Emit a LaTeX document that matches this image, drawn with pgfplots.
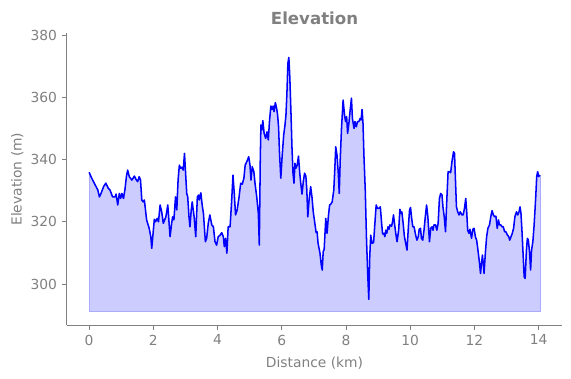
\documentclass[border=0pt]{standalone}
\usepackage{pgfplots}
\pgfplotsset{compat=1.18}
\usepackage{pgfplotstable}
\usepgfplotslibrary{fillbetween}
\usetikzlibrary{calc}
\usepackage{fontspec}
\setmainfont{DejaVu Sans}
\definecolor{txtgray}{RGB}{128,128,128}
\definecolor{fillblue}{RGB}{204,204,255}
\definecolor{edgeblue}{RGB}{170,170,255}

\pgfplotstableread{
x y
0.00 335.9
0.08 334.0
0.19 331.8
0.27 330.2
0.32 328.0
0.37 329.1
0.45 331.3
0.52 332.4
0.60 330.7
0.65 330.2
0.73 328.0
0.81 328.0
0.84 328.9
0.89 325.4
0.94 329.1
0.98 327.5
1.02 329.1
1.07 327.5
1.12 330.7
1.16 334.5
1.20 336.6
1.25 334.5
1.33 333.4
1.41 334.7
1.46 333.6
1.51 332.9
1.56 334.5
1.60 333.4
1.64 327.0
1.68 326.4
1.72 327.0
1.79 320.6
1.87 317.9
1.92 315.2
1.95 311.5
2.00 317.3
2.03 320.8
2.07 320.0
2.12 321.1
2.16 320.0
2.21 325.4
2.26 323.2
2.31 319.5
2.39 321.6
2.45 325.4
2.52 315.2
2.57 319.5
2.60 321.6
2.64 320.6
2.69 328.0
2.73 323.8
2.77 333.4
2.81 338.2
2.85 337.2
2.89 337.5
2.93 336.6
2.97 342.0
3.01 334.5
3.04 329.1
3.07 328.0
3.11 321.6
3.14 318.4
3.18 323.8
3.21 326.4
3.27 321.6
3.32 315.2
3.37 328.0
3.41 328.6
3.43 327.0
3.48 329.3
3.52 325.4
3.56 322.7
3.62 313.6
3.66 314.7
3.71 319.5
3.76 322.2
3.82 319.0
3.87 318.4
3.92 313.6
3.97 312.5
4.02 315.2
4.08 315.7
4.13 316.5
4.18 315.2
4.21 312.0
4.25 314.7
4.29 309.9
4.33 318.4
4.39 318.4
4.44 327.0
4.48 335.0
4.52 329.1
4.56 322.2
4.61 323.8
4.67 328.0
4.72 332.4
4.77 332.1
4.82 334.0
4.86 338.2
4.93 339.8
4.97 340.9
5.01 338.2
5.04 333.4
5.08 337.7
5.13 336.1
5.17 332.0
5.22 328.0
5.27 322.7
5.30 312.5
5.33 339.8
5.35 351.1
5.38 349.5
5.41 352.5
5.45 348.4
5.50 346.8
5.54 348.9
5.58 346.3
5.62 352.7
5.66 357.2
5.70 356.1
5.73 357.2
5.76 355.4
5.80 358.3
5.84 356.4
5.87 354.3
5.90 350.5
5.93 342.0
5.97 334.0
6.01 340.9
6.06 347.9
6.10 351.1
6.13 354.3
6.16 361.3
6.19 370.9
6.22 372.8
6.25 366.6
6.29 353.8
6.32 343.1
6.35 335.6
6.38 332.4
6.41 338.8
6.44 337.2
6.48 338.2
6.52 341.1
6.56 335.6
6.59 332.4
6.63 328.9
6.67 332.9
6.71 335.6
6.75 334.7
6.78 330.2
6.81 321.6
6.85 327.0
6.90 331.3
6.94 328.0
6.98 323.2
7.03 319.5
7.07 316.5
7.10 316.8
7.13 313.1
7.19 309.9
7.23 306.1
7.26 304.5
7.29 310.4
7.32 311.1
7.37 321.1
7.41 316.3
7.45 321.6
7.49 325.4
7.53 325.7
7.57 326.4
7.62 330.2
7.65 336.6
7.68 344.1
7.72 341.4
7.76 335.6
7.79 329.1
7.82 339.8
7.86 350.0
7.91 359.1
7.96 353.8
7.99 352.2
8.02 353.8
8.05 348.4
8.09 351.6
8.13 355.9
8.17 359.7
8.20 353.2
8.25 350.0
8.28 352.2
8.32 350.5
8.36 352.2
8.40 352.2
8.44 353.2
8.47 352.7
8.50 356.1
8.53 351.6
8.56 340.9
8.60 330.2
8.64 314.1
8.68 302.3
8.71 295.1
8.74 308.8
8.77 315.7
8.81 313.1
8.86 313.3
8.90 319.5
8.94 325.4
8.98 324.3
9.02 324.3
9.07 324.8
9.11 319.5
9.14 316.1
9.18 316.3
9.21 315.2
9.24 317.3
9.27 316.3
9.31 318.4
9.34 317.6
9.37 319.0
9.42 318.6
9.45 320.0
9.48 322.2
9.51 319.5
9.55 316.3
9.59 313.6
9.64 317.3
9.68 324.0
9.71 322.7
9.74 323.2
9.78 319.5
9.82 315.2
9.86 313.1
9.90 310.9
9.95 319.5
9.98 323.8
10.01 324.6
10.04 321.6
10.08 318.4
10.12 318.4
10.17 315.7
10.21 314.1
10.25 315.2
10.28 317.6
10.32 317.9
10.35 314.7
10.39 314.1
10.43 317.3
10.47 321.6
10.51 325.4
10.55 321.6
10.60 313.6
10.64 317.9
10.68 318.4
10.71 317.3
10.74 319.0
10.79 319.0
10.83 317.3
10.87 319.5
10.91 327.5
10.95 329.1
10.99 328.6
11.02 324.8
11.06 321.6
11.10 316.8
11.14 327.0
11.18 336.1
11.22 336.1
11.26 335.8
11.30 339.3
11.35 342.5
11.38 342.0
11.41 333.4
11.44 324.8
11.48 323.2
11.52 322.2
11.56 323.2
11.61 322.2
11.65 322.2
11.69 324.3
11.73 327.5
11.76 323.2
11.79 317.3
11.83 316.3
11.86 317.6
11.91 314.7
11.95 317.6
11.99 317.9
12.03 315.2
12.07 314.1
12.11 310.9
12.16 306.6
12.19 303.4
12.22 306.6
12.25 309.3
12.28 306.1
12.30 303.4
12.34 309.9
12.38 315.2
12.42 317.9
12.47 319.0
12.51 321.6
12.55 323.6
12.59 322.2
12.63 321.6
12.67 321.8
12.71 317.9
12.75 320.6
12.78 319.0
12.82 319.0
12.86 318.4
12.90 318.4
12.94 316.8
12.98 316.8
13.03 315.7
13.07 315.2
13.10 314.1
13.14 315.2
13.18 316.3
13.22 317.9
13.26 321.6
13.31 323.2
13.35 322.2
13.39 323.2
13.42 324.8
13.45 322.7
13.48 317.3
13.52 308.8
13.55 302.3
13.58 301.8
13.62 310.9
13.65 314.7
13.68 314.1
13.72 309.9
13.75 304.5
13.78 310.9
13.82 313.6
13.86 319.0
13.91 328.0
13.94 334.5
13.97 336.1
14.00 334.5
14.04 335.0
}\elev

\pgfplotstableread{
x y
0.00 335.9
0.00 291.1
14.04 291.1
14.04 335.0
}\basebox

\pgfplotstableread{
x y
0.00 291.1
14.04 291.1
}\baseline

\begin{document}
\begin{tikzpicture}
\begin{axis}[
  scale only axis,
  width=356.9bp, height=210bp,
  xmin=-0.70, xmax=14.74,
  ymin=286.83, ymax=380.55,
  axis x line*=bottom, axis y line*=left,
  axis line style={txtgray, line width=0.6bp},
  xtick={0,2,4,6,8,10,12,14},
  ytick={300,320,340,360,380},
  tick align=outside,
  major tick length=3.5bp,
  tick style={txtgray, line width=0.6bp},
  ticklabel style={font=\fontsize{10}{12}\selectfont, text=txtgray},
  /pgf/number format/assume math mode=true,
  title={Elevation},
  title style={font=\fontsize{12}{14}\selectfont\bfseries, text=txtgray,
    at={(axis description cs:0.5,1.001)}, anchor=base},
  xlabel={Distance (km)},
  xlabel style={font=\fontsize{10}{12}\selectfont, text=txtgray,
    at={(axis description cs:0.5,-0.145)}, anchor=base},
  ylabel={Elevation (m)},
  ylabel style={font=\fontsize{10}{12}\selectfont, text=txtgray,
    at={(axis description cs:-0.0911,0.5)}, anchor=base},
  clip=false,
]
\addplot[draw=none, name path=top] table[x=x,y=y] {\elev};
\addplot[draw=none, name path=bot] table[x=x,y=y] {\baseline};
\addplot[fillblue] fill between[of=top and bot];
\addplot[edgeblue, line width=0.6bp] table[x=x,y=y] {\basebox};
\addplot[blue, line width=1.1bp, line join=round] table[x=x,y=y] {\elev};
\end{axis}
\pgfresetboundingbox
\useasboundingbox ($(current axis.south west)+(-48bp,-38.2bp)$) rectangle ++(411.1bp,272.2bp);
\end{tikzpicture}
\end{document}
